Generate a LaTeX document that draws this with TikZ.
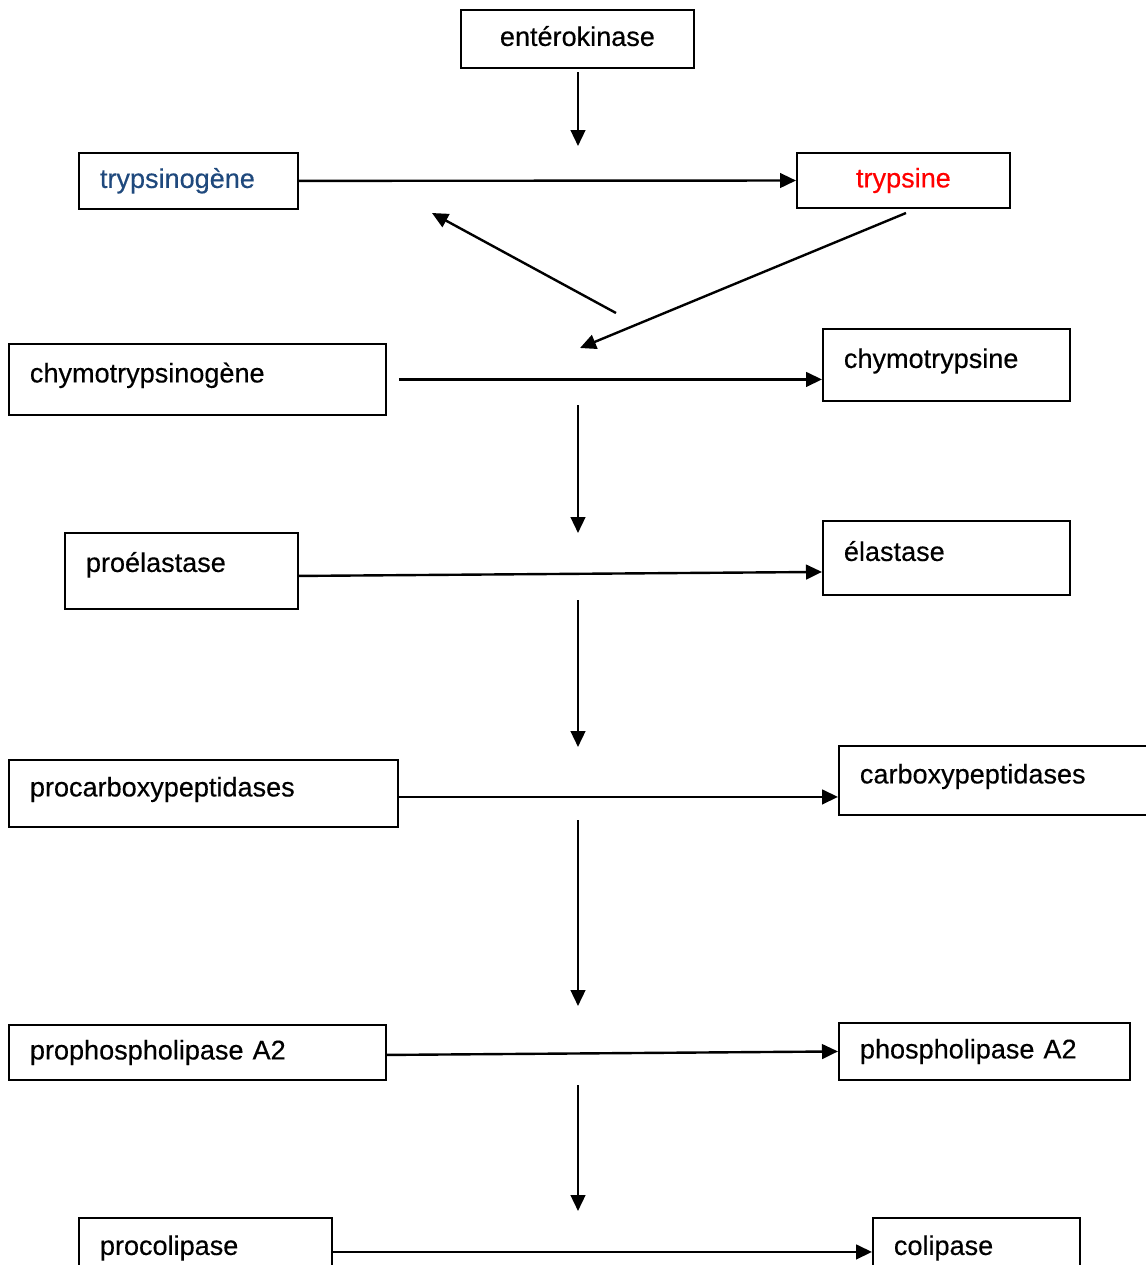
\documentclass[tikz,border=0pt]{standalone}
\usepackage{fontspec}
\setmainfont{Liberation Sans}[FakeBold=0.35]
\usepackage{xcolor}
\usetikzlibrary{arrows.meta, positioning, calc}
\definecolor{zymblue}{HTML}{1F497D}

\begin{document}
\begin{tikzpicture}[x=0.75pt, y=-0.75pt, font=\fontsize{20.3}{24}\selectfont]
\tikzstyle{enzyme}=[rectangle, draw, line width=1.4pt, anchor=north west, align=left, inner xsep=15.75pt, text height=10.5pt, text depth=0pt]
\tikzstyle{centred}=[align=center, inner xsep=0pt]
\tikzstyle{raised}=[text depth=6pt]
\tikzstyle{arrow}=[-{Triangle[length=12pt, width=11pt]}, line width=1.8pt]

\path[use as bounding box, fill=white] (0,0) rectangle (1146,1265);

\node[enzyme, centred, minimum width=174.75pt, minimum height=43.5pt] (enterokinase) at (460,9) {entérokinase};
\node[enzyme, text width=132.75pt, minimum height=42pt, text=zymblue] (trypsinogene) at (78,152) {trypsinogène};
\node[enzyme, centred, minimum width=159.75pt, minimum height=41.25pt, text=red] (trypsine) at (796,152) {trypsine};
\node[enzyme, raised, text width=251.25pt, minimum height=53.25pt] (chymotrypsinogene) at (8,343) {chymotrypsinogène};
\node[enzyme, raised, text width=153.75pt, minimum height=54pt] (chymotrypsine) at (822,328) {chymotrypsine};
\node[enzyme, raised, text depth=9pt, text width=143.25pt, minimum height=57pt] (proelastase) at (64,532) {proélastase};
\node[enzyme, raised, text width=153.75pt, minimum height=55.5pt] (elastase) at (822,520) {élastase};
\node[enzyme, raised, text width=260.25pt, minimum height=50.25pt] (procarboxypeptidases) at (8,759) {procarboxypeptidases};
\node[enzyme, raised, text width=216pt, minimum height=51.75pt] (carboxypeptidases) at (838,745) {carboxypeptidases};
\node[enzyme, text width=251.25pt, minimum height=41.25pt] (prophospholipase) at (8,1024) {prophospholipase A2};
\node[enzyme, text width=186.75pt, minimum height=42.75pt] (phospholipase) at (838,1022) {phospholipase A2};
\node[enzyme, raised, text width=158.25pt, minimum height=51pt] (procolipase) at (78,1217) {procolipase};
\node[enzyme, raised, text width=123.75pt, minimum height=51pt] (colipase) at (872,1217) {colipase};

% free ends of the activation arrows
\coordinate (v1a) at (578,72);
\coordinate (v1b) at (578,146);
\coordinate (back1) at (616,313);
\coordinate (back2) at (432,213);
\coordinate (feed1) at (906,213);
\coordinate (feed2) at (580,348);
\coordinate (v2a) at (578,405);
\coordinate (v2b) at (578,533);
\coordinate (v3a) at (578,600);
\coordinate (v3b) at (578,747);
\coordinate (v4a) at (578,820);
\coordinate (v4b) at (578,1006);
\coordinate (v5a) at (578,1085);
\coordinate (v5b) at (578,1211);
\coordinate (chymostart) at ($(chymotrypsinogene.east)+(12,0)$);
\coordinate (carbostart) at ($(procarboxypeptidases.east)+(0,3.5)$);

\draw[arrow] (v1a) -- (v1b);
\draw[arrow] (trypsinogene) -- (trypsine);
\draw[arrow] (back1) -- (back2);
\draw[arrow] (feed1) -- (feed2);
\draw[arrow] (chymostart) -- (chymostart -| chymotrypsine.west);
\draw[arrow] (v2a) -- (v2b);
\draw[arrow] ($(proelastase.east)+(0,5)$) -- ($(elastase.west)+(0,14)$);
\draw[arrow] (v3a) -- (v3b);
\draw[arrow] (carbostart) -- (carbostart -| carboxypeptidases.west);
\draw[arrow] (v4a) -- (v4b);
\draw[arrow] ($(prophospholipase.east)+(0,2.5)$) -- (phospholipase.west);
\draw[arrow] (v5a) -- (v5b);
\draw[arrow] (procolipase) -- (colipase);

\end{tikzpicture}
\end{document}
